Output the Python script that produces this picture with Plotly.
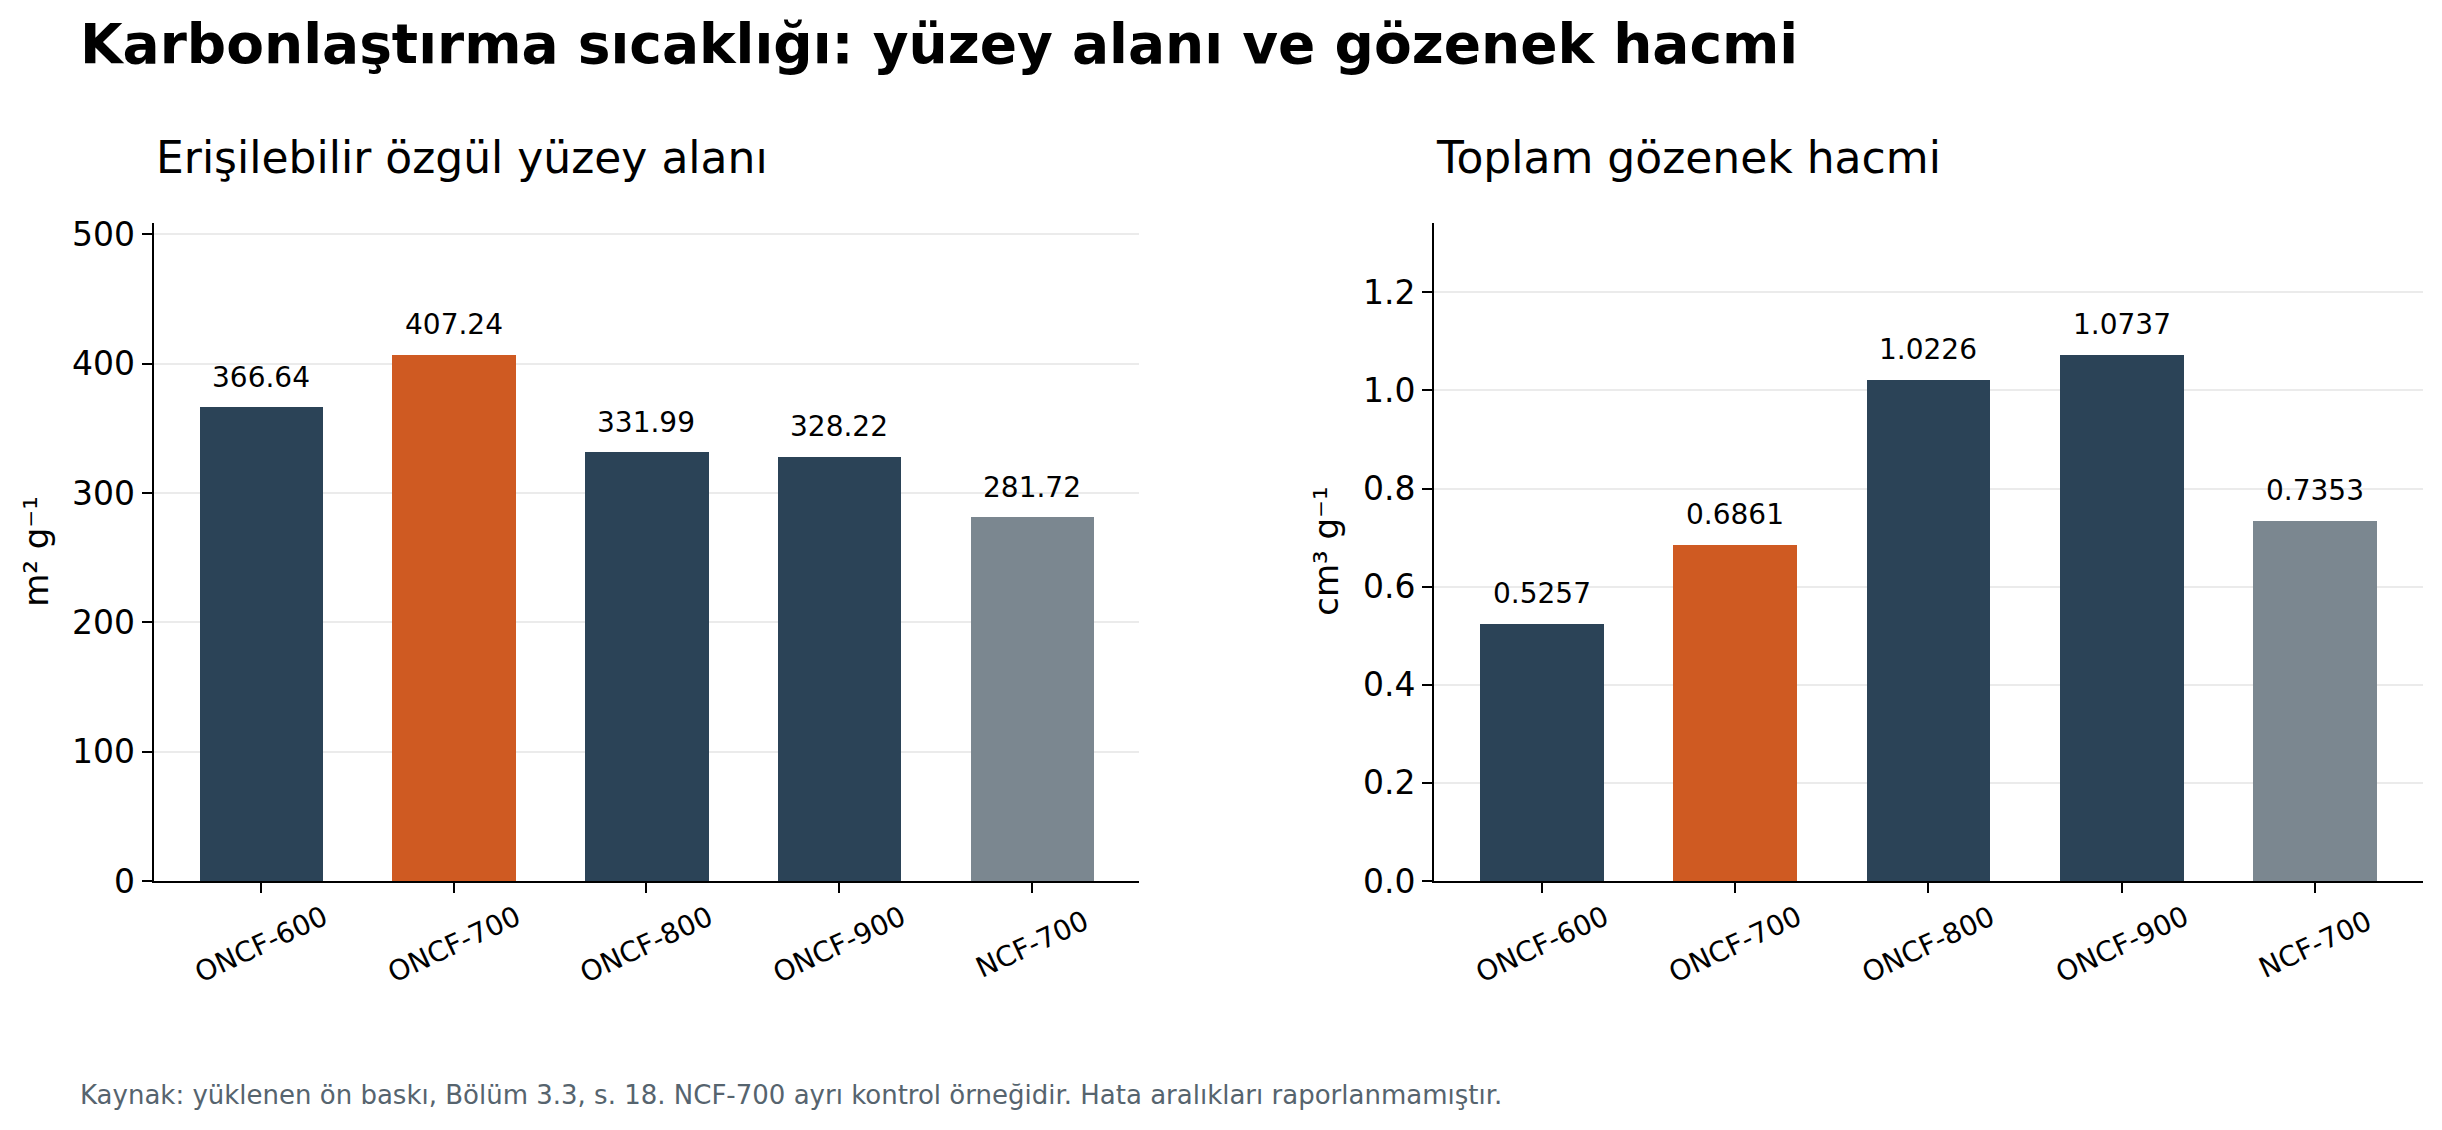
import plotly.graph_objects as go

# Données
samples = ["ONCF-600", "ONCF-700", "ONCF-800", "ONCF-900", "NCF-700"]
surface_area = [366.64, 407.24, 331.99, 328.22, 281.72]   # m² g⁻¹
pore_volume = [0.5257, 0.6861, 1.0226, 1.0737, 0.7353]    # cm³ g⁻¹
surface_labels = ["366.64", "407.24", "331.99", "328.22", "281.72"]
volume_labels = ["0.5257", "0.6861", "1.0226", "1.0737", "0.7353"]

DARK = "#2b4357"
ORANGE = "#cf5a22"
GREY = "#7b8790"
bar_colors = [DARK, ORANGE, DARK, DARK, GREY]

FONT = "DejaVu Sans"
# la page html ajoute une marge de 8 px autour de la figure
W, H = 2434, 1122

fig = go.Figure()

fig.add_trace(go.Bar(x=samples, y=surface_area, marker_color=bar_colors,
                     marker_line_width=0, width=0.64, xaxis="x", yaxis="y",
                     hoverinfo="x+y"))
fig.add_trace(go.Bar(x=samples, y=pore_volume, marker_color=bar_colors,
                     marker_line_width=0, width=0.64, xaxis="x2", yaxis="y2",
                     hoverinfo="x+y"))

ydom = [0.2219, 0.8088]

def x_axis(domain, anchor):
    return dict(domain=domain, anchor=anchor, range=[-0.5575, 4.5575],
                showline=True, linecolor="black", linewidth=2,
                ticks="outside", ticklen=10, tickwidth=2, tickcolor="black",
                showticklabels=False, showgrid=False, zeroline=False,
                automargin=False)

def y_axis(domain, anchor, rng, dtick, fmt):
    return dict(domain=domain, anchor=anchor, range=rng, dtick=dtick,
                tickformat=fmt, showline=True, linecolor="black", linewidth=2,
                ticks="outside", ticklen=10, tickwidth=2, tickcolor="black",
                tickfont=dict(size=33, color="black", family=FONT),
                showgrid=True, gridcolor="#ebebeb", gridwidth=1.5,
                zeroline=False, automargin=False)

annotations = []

# Titre et sous-titres
annotations.append(dict(text="<b>Karbonlaştırma sıcaklığı: yüzey alanı ve gözenek hacmi</b>",
                        x=70 / W, y=0.9675, xref="paper", yref="paper",
                        xanchor="left", yanchor="middle", showarrow=False,
                        font=dict(size=55, color="black", family=FONT)))
annotations.append(dict(text="Erişilebilir özgül yüzey alanı", x=0, y=0.8668,
                        xref="x domain", yref="paper", xanchor="left", yanchor="middle",
                        showarrow=False, font=dict(size=44, color="black", family=FONT)))
annotations.append(dict(text="Toplam gözenek hacmi", x=0, y=0.8668,
                        xref="x2 domain", yref="paper", xanchor="left", yanchor="middle",
                        showarrow=False, font=dict(size=44, color="black", family=FONT)))

# Légende source
annotations.append(dict(text="Kaynak: yüklenen ön baskı, Bölüm 3.3, s. 18. NCF-700 ayrı kontrol örneğidir. "
                             "Hata aralıkları raporlanmamıştır.",
                        x=70 / W, y=0.0316, xref="paper", yref="paper",
                        xanchor="left", yanchor="middle", showarrow=False,
                        font=dict(size=26, color="#56646e", family=FONT)))

# Titres des axes y
annotations.append(dict(text="m² g⁻¹", x=28 / W, y=0.5, xref="paper", yref="y domain",
                        textangle=-90, xanchor="center", yanchor="middle", showarrow=False,
                        font=dict(size=34, color="black", family=FONT)))
annotations.append(dict(text="cm³ g⁻¹", x=1318 / W, y=0.5, xref="paper", yref="y2 domain",
                        textangle=-90, xanchor="center", yanchor="middle", showarrow=False,
                        font=dict(size=34, color="black", family=FONT)))

# Valeurs au-dessus des barres + étiquettes inclinées
for xr, yr, vals, labels in [("x", "y", surface_area, surface_labels),
                             ("x2", "y2", pore_volume, volume_labels)]:
    for s, v, lab in zip(samples, vals, labels):
        annotations.append(dict(text=lab, x=s, y=v, xref=xr, yref=yr,
                                xanchor="center", yanchor="bottom", yshift=11,
                                showarrow=False,
                                font=dict(size=28, color="black", family=FONT)))
        annotations.append(dict(text=s, x=s, y=0, xref=xr, yref=yr + " domain",
                                xanchor="center", yanchor="middle", yshift=-63,
                                textangle=-25, showarrow=False,
                                font=dict(size=28, color="black", family=FONT)))

fig.update_layout(
    width=W, height=H,
    margin=dict(l=0, r=0, t=0, b=0),
    paper_bgcolor="white", plot_bgcolor="white",
    showlegend=False,
    font=dict(family=FONT, color="black"),
    xaxis=x_axis([145.6 / W, 1131.3 / W], "y"),
    xaxis2=x_axis([1426 / W, 2414.8 / W], "y2"),
    yaxis=y_axis(ydom, "x", [0, 407.24 * 1.25], 100, "d"),
    yaxis2=y_axis(ydom, "x2", [0, 1.0737 * 1.25], 0.2, ".1f"),
    annotations=annotations,
    bargap=0,
)

fig.write_html("out.html")
